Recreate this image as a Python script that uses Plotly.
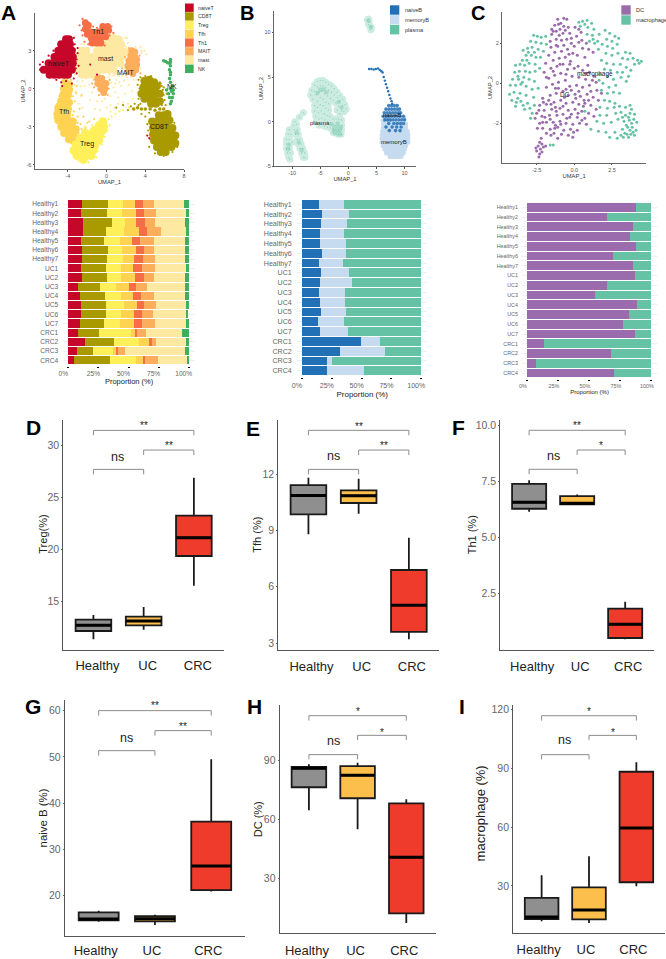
import plotly.graph_objects as go

W, H = 666, 959
FONT = "Liberation Sans"

# ---------- Panel A UMAP (x, y in UMAP units) ----------
a_names = ["naiveT", "CD8T", "Treg", "Tfh", "Th1", "MAIT", "mast", "NK"]
a_colors = ["#c5082a", "#a99a00", "#fff05a", "#fed352", "#f56e45", "#fdae5c", "#fee9a3", "#3fae5f"]

mast_core = [(0.2,4.0),(0.7,4.0),(1.2,3.9),(-1.0,3.5),(-0.5,3.5),(0,3.5),(0.5,3.5),(1.0,3.5),(1.5,3.5),(-2.6,3.0),(-2.1,3.0),(-1.0,3.0),(-0.5,3.0),(0,3.0),(0.5,3.0),(1.0,3.0),(1.5,3.0),(1.9,2.9),(-3.0,2.5),(-2.5,2.5),(-2,2.5),(-1.5,2.5),(-1,2.5),(-0.5,2.5),(0,2.5),(0.5,2.5),(1,2.5),(1.5,2.5),(-3.1,2.0),(-2.6,2.0),(-2.1,2.0),(-1.6,2.0),(-1.1,2.0),(-0.6,2.0),(-0.1,2.0),(0.4,2.0),(0.9,2.0),(1.4,2.0),(-2.8,1.5),(-2.3,1.5),(-1.8,1.5),(-1.3,1.5),(-0.8,1.5),(-0.3,1.5),(0.2,1.5),(0.7,1.5),(-2.5,1.1),(-2,1.1),(-1.5,1.1),(-1,1.1)]
mast_speck = [(-3,0.6),(-2.7,0.2),(-3.1,-0.4),(-2.1,0.8),(-1.8,0.3),(-1.5,-0.3),(-1.7,-0.9),(-1.0,-1.0),(-0.5,-1),(0,-1.5),(0.4,-0.6),(0.7,0.1),(1,0.7),(1.3,1),(1.8,0.6),(2.3,0.3),(2.8,0.7),(3.2,0.7),(3.4,0.3),(3.2,-0.3),(2.7,-0.8),(2.2,-1.2),(1.7,-1.1),(1.2,-1.2),(0.8,-1.5),(3.6,2.8),(3.6,3),(3.9,3),(3.5,3.3),(3,3.3),(2,3.3),(1.9,4),(-3.6,3.3),(-3.3,4.1),(-2.6,3.5),(0.3,0.4),(0.9,-0.3),(1.5,0.2),(-1.2,0.4),(-2.3,0.2),(-2.6,-0.6),(2.6,-0.2),(1.9,-0.4),(0.6,1.0),(0.2,0.9),(1.0,1.2),(0.5,0.5),(1.2,-0.7),(0.4,-1.3),(-0.2,-0.8),(-2.9,1.0),(-3.3,0.3),(-2.5,0.6),(1.6,1.0),(3.4,2.2),(3.5,1.6),(3.8,0.9),(4.1,2.7),(-3.3,1.1),(-3.4,2.7),(-2.9,3.2),(-2.3,3.5),(2.0,2.3),(1.9,1.6),(1.2,1.1),(0.8,1.1),(0.3,1.1),(-0.4,1.0),(0.1,0.6),(2.1,4.0),(2.2,3.6),(1.6,3.9),(0.9,0.4),(1.3,0.5),(2.1,0.9),(-2.9,-1.2),(-2.5,-1.5),(-1.2,-1.6),(-0.7,-1.7),(0.4,-1.8)]
naive_core = [(-4.2,3.9),(-3.9,3.9),(-4.7,3.5),(-4.3,3.5),(-3.8,3.5),(-5.0,3.0),(-4.5,3.0),(-4.0,3.0),(-3.6,3.0),(-5.4,2.5),(-4.9,2.5),(-4.4,2.5),(-3.9,2.5),(-3.5,2.5),(-6.0,2.0),(-5.5,2.0),(-5.0,2.0),(-4.5,2.0),(-4.0,2.0),(-3.5,2.0),(-6.5,1.5),(-6.0,1.5),(-5.5,1.5),(-5.0,1.5),(-4.5,1.5),(-4.0,1.5),(-3.6,1.5),(-5.9,1.1),(-5.4,1.1),(-4.9,1.1),(-4.4,1.1),(-4.0,1.1)]
naive_speck = [(-3,2.8),(-3.1,1.2),(-3.4,0.8),(-4.7,0.5),(-5,0.9),(-4.2,0.6),(-3,3.2),(-2.9,1.8),(4.2,-3.7),(4.4,-3.9),(-1.7,1.9),(-1,1.1),(-3.3,3.5),(-6.9,1.9),(-4.6,0.2),(-3.6,0.4),(-3.1,2.3),(-3.2,1.6),(-3.4,4.0),(-3.3,3.1),(-5.5,3.0),(-6.0,2.6),(-6.6,2.1),(-6.9,1.5),(-5.2,0.7)]
th1_core = [(-2.2,5.2),(-1.9,5.0),(-2.2,4.7),(-1.7,4.5),(-0.4,4.9),(0.1,4.9),(-0.7,4.5),(-0.2,4.5),(0.2,4.6),(-1.2,4.4),(-2.0,4.3),(-1.6,4.0),(-1.1,4.0),(-0.6,4.0),(-0.1,4.1),(-1.5,3.6),(-1.0,3.6),(-0.6,3.6)]
th1_speck = [(-2.8,5.0),(-2.5,4.2),(0.5,4.9),(0.7,4.4),(0.3,4.2),(-2.3,3.7),(-1.9,3.5),(-0.2,3.4),(-2.5,5.5),(-1.4,4.9),(-1.0,4.8),(-2.6,4.6)]
mait_core = [(2.6,3.0),(2.9,2.9),(2.5,2.6),(2.9,2.5),(3.1,2.3),(2.3,2.2),(2.7,2.1),(3.1,1.9),(2.2,1.8),(2.6,1.7),(3.0,1.5),(2.3,1.4),(2.7,1.2),(-0.9,0.8),(-0.5,0.8),(-0.9,0.4),(-0.5,0.4),(-0.1,0.4),(-0.6,0),(-0.2,0),(-0.3,-0.3)]
mait_speck = [(1.9,2.5),(3.4,2.6),(3.3,1.7),(2.0,1.1),(-1.3,0.7),(-1.3,0.1),(0.2,0.0),(0.1,-0.5),(-0.8,-0.5),(1.6,1.6),(3.5,1.2),(2.3,3.2),(-1.5,0.4),(0.3,0.7)]
cd8_core = [(3.9,0.6),(4.4,0.7),(4.9,0.5),(5.2,0.2),(3.8,0.1),(4.3,0.2),(4.8,0),(3.6,-0.4),(4.1,-0.3),(4.6,-0.4),(5.1,-0.3),(5.5,-0.4),(3.9,-0.8),(4.4,-0.8),(4.9,-0.8),(4.6,-1.2),(5.1,-1.2),(5.5,-1.0),(5.4,-2.1),(5.9,-2.1),(6.3,-2.0),(4.7,-2.6),(5.2,-2.6),(5.7,-2.6),(6.2,-2.6),(6.5,-2.5),(4.8,-3.1),(5.3,-3.1),(5.8,-3.1),(6.3,-3.1),(6.8,-3.1),(4.8,-3.6),(5.3,-3.6),(5.8,-3.6),(6.3,-3.6),(6.8,-3.6),(7.1,-3.7),(4.9,-4.1),(5.4,-4.1),(5.9,-4.1),(6.4,-4.1),(6.9,-4.1),(7.1,-4.3),(5.2,-4.6),(5.7,-4.6),(6.2,-4.6),(6.7,-4.6),(5.6,-5.0),(6.1,-5.0)]
cd8_strip = [(2.8,-1.6),(3.2,-1.5),(3.6,-1.6),(4.0,-1.6),(4.5,-1.6),(5.0,-1.7),(5.5,-1.6),(5.9,-1.6)]
cd8_speck = [(1.7,-1.3),(2.2,-1.7),(2.5,-1.4),(2.9,-1.2),(3.3,-1.3),(3.6,-2),(4,-2.2),(4.4,-1.9),(4.2,-2.8),(4.3,-3.3),(4.5,-4),(6.6,-2.3),(7,-2.7),(7.4,-3.7),(7.3,-4.6),(5.9,-5.3),(3.4,0),(3.2,0.3),(5.6,0.4),(5.8,-0.1),(6,-0.9),(5.7,-1.3),(1,-1.5),(6.1,-1.3),(5.9,0.1),(6.2,-0.4),(3.3,0.7),(3.5,0.9),(5.5,0.5),(5.7,0.2),(3.3,-0.8),(3.5,-1.2),(5.9,-0.5),(4.0,1.0),(4.6,1.0),(6.8,-5.0),(5.0,-5.1),(4.4,-4.6)]
nk_core = [(5.9,2.2),(6.1,2.15),(6.3,2.05),(6.5,2.0),(6.6,2.3),(6.6,2.1),(6.6,1.8),(6.5,1.5),(6.6,1.3),(6.6,1.1),(6.5,0.8),(6.6,0.5),(6.8,0.2),(6.9,-0.1),(6.9,-0.4),(6.7,-0.2),(6.8,-0.7),(6.7,-1.0),(6.6,-1.2),(6.4,-0.4),(6.2,-0.1),(6.5,-0.7),(6.6,0.0)]
treg_core = [(-0.4,-2.6),(-0.8,-2.9),(-0.3,-3.0),(-1.3,-3.3),(-0.8,-3.3),(-0.4,-3.3),(-2.2,-3.5),(-1.7,-3.6),(-1.2,-3.7),(-0.7,-3.7),(-2.7,-3.9),(-2.2,-4.0),(-1.7,-4.0),(-1.2,-4.1),(-0.8,-4.1),(-3.2,-4.4),(-2.7,-4.4),(-2.2,-4.4),(-1.7,-4.5),(-1.2,-4.5),(-3.4,-4.9),(-2.9,-4.9),(-2.4,-4.9),(-1.9,-4.9),(-1.4,-4.9),(-3.1,-5.3),(-2.6,-5.3),(-2.1,-5.3),(-1.6,-5.3),(-2.4,-5.6)]
treg_speck = [(0.2,-2.4),(0.5,-2.2),(0.9,-2),(1.3,-1.8),(-0.1,-2.7),(-0.6,-2.5),(-1.0,-2.8),(-1.5,-2.9),(-2.2,-3),(-2.5,-3.3),(0.3,-2.9),(-3.6,-4.2),(1.7,-1.7),(2.3,-1.5),(2.7,-1.6),(0.1,-3.3),(-0.2,-3.8),(-0.5,-4.4),(-0.9,-4.9),(-1.1,-5.4),(-3.7,-4.7),(-1.9,-5.8),(-2.9,-5.7)]
tfh_core = [(-4.3,0.5),(-3.9,0.3),(-4.4,0),(-3.9,-0.1),(-4.5,-0.5),(-4.0,-0.5),(-4.7,-1),(-4.2,-1),(-3.9,-1.1),(-5.0,-1.5),(-4.5,-1.5),(-4.0,-1.6),(-5.1,-2),(-4.6,-2),(-4.1,-2),(-5.0,-2.5),(-4.5,-2.5),(-4.0,-2.5),(-3.5,-2.6),(-4.7,-3),(-4.2,-3),(-3.7,-3),(-3.2,-3.2),(-4.4,-3.5),(-3.9,-3.5),(-3.4,-3.6),(-3.9,-4),(-3.5,-4.1)]
tfh_speck = [(-2.6,-0.5),(-2.8,-1.6),(-2.4,-2.2),(-1.8,-2.6),(-1.3,-2.4),(-3,-2.2),(-2.7,-2.8),(-3.1,0.2),(-3.3,-1),(-3.2,-0.3),(-5.4,-2.3),(-5.3,-1.7),(-3.7,0.7),(-2,-2.7),(-2.2,-3.1),(-2.9,-3.5),(-3.4,-1.8),(-3.5,-2.1),(-3.0,-2.7),(-3.6,0.0),(-3.5,-0.6),(-2.6,-3.2),(-5.1,-1.2),(-4.9,-0.6)]
a_labels = [("naiveT",-4.9,2.0),("Th1",-0.9,4.5),("mast",-0.1,2.4),("MAIT",1.9,1.3),("NK",6.8,0.2),("Tfh",-4.4,-1.8),("CD8T",5.5,-3.0),("Treg",-2.0,-4.4)]

# ---------- Panel B UMAP ----------
b_names = ["naiveB", "memoryB", "plasma"]
b_colors = ["#2270b5", "#c6dbef", "#66c2a5"]
plasma_pts = [(-6.5,3.5),(-6,4.1),(-5.5,4.5),(-5,4.6),(-4.5,4.6),(-4,4.4),(-3.5,4.2),(-3,4),(-2.5,3.7),(-2,3.3),(-1.5,2.9),(-1,2.5),(-0.6,1.9),(-0.4,1.4),(-6.7,3),(-6,3.4),(-5.5,3.9),(-5,4),(-4.5,4),(-4,3.8),(-3.5,3.5),(-3,3.3),(-2.5,3),(-2,2.7),(-1.5,2.3),(-1,1.8),(-6.3,2.5),(-5.7,3),(-5.2,3.3),(-4.7,3.4),(-4.2,3.1),(-3.7,2.9),(-3.2,2.6),(-2.7,2.4),(-2.2,2.1),(-1.7,1.7),(-1.2,1.2),(-0.8,1.1),(-6,1.8),(-5.5,2.3),(-5,2.7),(-4.5,2.5),(-4,2.2),(-3.5,2),(-6,1.2),(-5.5,1.6),(-5,1.9),(-4.5,1.8),(-4,1.5),(-3.5,1.3),(-2,1.3),(-1.5,0.9),(-5.8,0.6),(-5.3,1),(-4.8,1.2),(-4.3,0.9),(-3.8,0.7),(-3.3,0.6),(-2.7,0.3),(-2.2,0.3),(-1.7,0.3),(-1.2,0.2),(-5.7,0),(-5.2,0.3),(-4.7,0.4),(-4.2,0.2),(-3.7,0),(-3.2,-0.1),(-2.7,-0.3),(-2.2,-0.4),(-1.7,-0.4),(-1.2,-0.4),(-5.2,-0.4),(-4.7,-0.3),(-4.2,-0.5),(-3.7,-0.6),(-3.2,-0.7),(-2.7,-0.8),(-2.2,-0.9),(-1.7,-0.9),(-1.2,-0.9),(-2.7,-1.2),(-2.2,-1.3),(-1.7,-1.4),(-1.3,-1.4),(-2.5,-1.0),(-1.9,-1.1),(-1.5,-1.1),(-1.5,-0.7),(-8,1),(-8.7,0.5),(-9.5,0),(-9.7,-0.4),(-9.2,-0.3),(-9.6,-0.9),(-9.1,-0.9),(-9.4,-1.4),(-8.9,-1.4),(-9.1,-2),(-8.7,-2),(-8.9,-2.5),(-8.4,-2.5),(-8.6,-3),(-8.1,-3),(-8.3,-3.5),(-7.8,-3.5),(-8,-4),(-7.7,-4),(-10.5,-0.9),(-10.7,-1.4),(-10.2,-1.4),(-11,-2),(-10.5,-2),(-11,-2.5),(-10.5,-2.5),(-10,-2.3),(-11,-3),(-10.5,-3),(-10.8,-3.5),(-10.3,-3.5),(-10.6,-4),(-10.4,-4.2),(3.4,11.4),(3.6,11.5),(3.7,11.2),(3.6,10.9),(3.9,10.7),(4.1,10.5),(4,10.3)]
plasma_dense = [(-3.0,-0.3),(-2.5,-0.6),(-2.0,-0.7),(-1.5,-0.9),(-2.6,-1.0),(-2.1,-1.1),(-1.6,-1.2),(-1.3,-0.6),(-1.9,-0.2),(-2.4,-1.3),(-1.8,-1.4),(-1.4,-1.4),(-5.5,3.2),(-5.0,3.6),(-4.4,3.6),(-3.9,3.3),(-1.7,2.2),(-1.2,1.6),(-10.6,-2.6),(-10.7,-3.1),(-9.2,-1.2),(-8.8,-2.3),(-8.3,-3.2),(3.6,11.3),(4.0,10.6)]
memory_pts = [(6.6,0.5),(7.1,0.5),(9.9,0.4),(6.2,0.1),(6.7,0.1),(7.3,0.1),(6.3,-0.3),(6.8,-0.3),(7.6,-0.3),(8.4,-0.3),(9.0,-0.3),(10.2,-0.3),(6.2,-0.7),(6.7,-0.7),(7.2,-0.7),(8.0,-0.7),(8.9,-0.7),(9.7,-0.7),(10.2,-0.7),(6.1,-1.1),(6.6,-1.1),(7.1,-1.1),(7.6,-1.1),(8.1,-1.1),(8.7,-1.1),(9.5,-1.1),(10.0,-1.1),(10.5,-1.1),(6.0,-1.5),(6.5,-1.5),(7.0,-1.5),(7.5,-1.5),(8.0,-1.5),(8.5,-1.5),(9.0,-1.5),(9.5,-1.5),(10.0,-1.5),(10.6,-1.5),(6.0,-1.9),(6.5,-1.9),(7.0,-1.9),(7.5,-1.9),(8.0,-1.9),(8.5,-1.9),(9.0,-1.9),(9.5,-1.9),(10.0,-1.9),(10.6,-1.9),(6.0,-2.3),(6.5,-2.3),(7.0,-2.3),(7.5,-2.3),(8.0,-2.3),(8.5,-2.3),(9.0,-2.3),(9.5,-2.3),(10.0,-2.3),(10.6,-2.3),(6.2,-2.7),(6.7,-2.7),(7.2,-2.7),(7.7,-2.7),(8.2,-2.7),(8.7,-2.7),(9.2,-2.7),(9.7,-2.7),(10.2,-2.7),(6.5,-3.1),(7.0,-3.1),(7.5,-3.1),(8.0,-3.1),(8.5,-3.1),(9.0,-3.1),(9.5,-3.1),(10.0,-3.1),(6.8,-3.5),(7.3,-3.5),(7.8,-3.5),(8.3,-3.5),(8.8,-3.5),(9.3,-3.5),(9.8,-3.5),(7.4,-3.9),(7.9,-3.9),(8.4,-3.9),(8.9,-3.9),(9.4,-3.9)]
naiveb_line = [(3.7,5.9),(4.1,5.9),(4.5,5.85),(4.9,5.9),(5.3,5.95),(5.6,5.8),(5.9,5.65),(6.1,5.5),(6.3,5.0),(6.5,4.6),(6.7,4.2),(6.9,3.8),(7.1,3.4),(7.3,3.0),(7.5,2.6),(7.7,2.3),(7.8,2.0)]
naiveb_blob = [(7.2,1.8),(7.7,1.8),(8.2,1.8),(8.7,1.8),(6.7,1.4),(7.2,1.4),(7.7,1.4),(8.2,1.4),(8.7,1.4),(9.1,1.4),(6.4,1),(6.9,1),(7.4,1),(7.9,1),(8.4,1),(8.9,1),(9.3,1),(6.2,0.6),(6.7,0.6),(7.2,0.6),(7.7,0.6),(8.2,0.6),(8.7,0.6),(9.2,0.6),(9.8,0.6),(6.5,0.2),(7,0.2),(7.5,0.2),(8,0.2),(8.5,0.2),(9,0.2),(9.5,0.2),(10,0.2),(7.2,-0.2),(8.1,-0.2),(8.7,-0.2),(9.3,-0.2),(9.8,-0.2),(6.7,-0.6),(7.8,-0.6),(8.6,-0.6),(9.4,-0.6),(7.3,-1),(8.4,-1),(9.2,-1)]
b_labels = [("plasma",-5.0,-0.1),("naiveB",7.8,0.7),("memoryB",8.2,-2.3)]

# ---------- Panel C UMAP ----------
c_names = ["DC", "macrophage"]
c_colors = ["#9a6bad", "#66c2a5"]
dc_pts = [(-1.5,2.7),(-1.3,2.9),(-1.1,3.2),(-0.9,3.0),(-0.7,3.25),(-0.5,3.2),(-1.4,2.6),(-1.2,2.6),(-0.95,2.7),(-0.7,2.85),(-0.4,2.8),(-1.5,2.45),(-1.0,2.4),(-0.75,2.5),(-0.3,2.5),(0.05,2.8),(0.3,2.7),(0.45,2.55),(0.15,2.35),(-0.5,2.2),(-0.85,2.15),(-1.2,2.2),(-1.6,2.1),(0.5,2.15),(0.8,2.0),(-0.2,2.0),(0.0,1.85),(-0.7,1.9),(-1.1,1.85),(0.55,1.75),(0.95,1.7),(1.25,1.55),(-0.45,1.7),(-0.85,1.6),(-1.3,1.55),(-1.7,1.4),(-0.1,1.5),(0.2,1.4),(0.7,1.3),(-0.6,1.3),(-1.0,1.25),(-1.4,1.15),(-1.9,1.0),(-0.25,1.1),(-0.75,0.95),(-1.15,0.85),(-1.55,0.75),(-2.0,0.55),(-0.45,0.7),(0.0,0.75),(0.55,0.65),(1.0,0.55),(1.3,0.35),(-0.9,0.5),(-1.3,0.4),(-1.7,0.25),(-0.15,0.35),(0.3,0.3),(0.75,0.2),(1.45,0.05),(-0.6,0.15),(-1.05,0.05),(-1.45,-0.05),(-1.85,-0.2),(-0.3,-0.15),(0.15,-0.1),(0.55,-0.2),(1.0,-0.1),(1.5,-0.35),(1.8,-0.5),(-0.75,-0.4),(-1.2,-0.5),(-1.6,-0.6),(-2.1,-0.75),(-0.4,-0.6),(0.05,-0.55),(0.4,-0.65),(0.85,-0.55),(1.25,-0.7),(1.6,-0.85),(-0.9,-0.85),(-1.35,-0.95),(-1.85,-1.05),(-2.3,-1.1),(-0.55,-1.0),(-0.1,-0.95),(0.3,-1.05),(0.7,-1.0),(1.1,-1.1),(1.45,-1.3),(-0.95,-1.25),(-1.5,-1.3),(-2.0,-1.35),(-2.5,-1.5),(-0.4,-1.35),(0.05,-1.3),(0.5,-1.4),(0.95,-1.5),(1.3,-1.65),(-0.75,-1.55),(-1.15,-1.6),(-1.65,-1.6),(-2.15,-1.65),(-2.6,-1.75),(-0.3,-1.7),(0.2,-1.7),(0.7,-1.75),(-0.95,-1.9),(-1.4,-1.95),(-1.85,-1.95),(-2.3,-2.0),(-0.55,-2.0),(-0.1,-2.05),(0.35,-2.0),(0.8,-2.05),(-1.1,-2.2),(-1.6,-2.3),(-2.1,-2.25),(-2.45,-2.25),(-0.7,-2.35),(-0.25,-2.3),(0.2,-2.35),(-1.35,-2.5),(-1.85,-2.5),(-0.85,-2.55),(-0.4,-2.6),(-0.1,-2.7),(-1.1,-2.75),(-2.2,-2.75),(-2.3,-2.95),(-2.15,-3.05),(-2.4,-3.15),(-2.25,-3.3),(-2.05,-3.2),(-2.5,-3.4),(-2.3,-3.55),(-2.15,-3.45),(-1.9,-3.15),(-2.55,-3.25),(-2.35,-3.7),(-1.2,1.9),(-0.3,0.95),(0.9,0.9),(-1.05,-0.25),(-0.55,-0.3),(0.65,-0.85),(-1.7,-0.85),(-1.25,-1.2),(-0.2,-1.55),(0.6,-1.15),(-1.95,-1.7),(-1.25,-2.1),(-1.05,2.95),(-0.6,2.65),(-0.2,2.25),(0.3,2.05),(-0.35,1.45),(-1.55,1.8),(-0.95,0.95),(-1.4,0.6),(-0.55,0.45),(0.25,0.85),(0.8,0.5),(-1.25,-0.25),(0.3,-0.4),(1.1,-0.4),(-0.65,-0.7),(-1.55,-1.05),(0.1,-0.75),(0.95,-0.85),(-2.05,-0.95),(-0.75,-1.15),(0.25,-1.5),(-1.2,-1.4),(-0.5,-1.75),(-1.6,-1.8),(-2.1,-1.95),(0.5,-1.85),(-0.9,-2.05),(-0.05,-2.45),(-1.55,-2.6),(-1.3,-2.25),(-2.35,-1.35),(-0.2,-0.35),(1.2,0.15),(-1.85,0.3)]
mac_pts = [(-2.7,2.4),(-2.45,2.35),(-2.2,2.3),(-1.9,2.35),(-2.9,2.1),(-2.55,2.05),(-2.2,2.0),(-1.85,1.95),(-3.4,1.65),(-3.1,1.75),(-2.8,1.8),(-2.4,1.7),(-2.05,1.6),(-3.2,1.4),(-2.85,1.4),(-2.55,1.3),(-2.25,1.3),(-3.9,0.9),(-3.6,0.95),(-3.3,0.9),(-3.0,1.0),(-2.6,0.95),(-3.95,0.55),(-3.65,0.6),(-3.25,0.6),(-2.95,0.55),(-2.6,0.6),(-2.3,0.75),(-4.1,0.2),(-3.7,0.2),(-3.35,0.3),(-3.0,0.2),(-2.65,0.1),(-4.25,-0.1),(-3.9,-0.1),(-3.55,-0.05),(-3.2,-0.15),(-2.8,-0.3),(-2.4,-0.25),(-4.3,-0.55),(-4.0,-0.45),(-3.6,-0.5),(-3.2,-0.6),(-2.7,-0.7),(-4.15,-0.85),(-3.85,-0.95),(-3.55,-0.9),(-3.1,-1.0),(-2.65,-1.1),(-3.9,-1.15),(-3.3,-1.3),(-2.8,-1.5),(-2.9,-1.75),(0.3,3.05),(0.55,3.1),(0.85,3.15),(1.15,3.0),(0.4,2.85),(0.9,2.8),(1.3,2.7),(2.05,2.65),(2.35,2.5),(2.7,2.35),(2.95,2.25),(0.85,2.45),(1.2,2.4),(1.65,2.45),(2.15,2.2),(2.5,2.1),(1.0,2.1),(1.35,2.0),(1.85,1.95),(2.2,1.85),(2.55,1.75),(2.85,1.95),(1.6,1.7),(2.1,1.5),(2.5,1.4),(2.9,1.5),(3.4,1.55),(3.7,1.5),(3.2,1.25),(3.55,1.2),(3.9,1.25),(4.2,1.15),(4.45,1.1),(4.0,0.95),(4.3,1.0),(1.8,1.15),(2.15,1.0),(2.6,0.95),(3.05,0.95),(3.45,0.8),(3.75,0.65),(2.0,0.7),(2.4,0.65),(2.85,0.55),(3.2,0.55),(3.6,0.35),(1.7,0.45),(2.2,0.35),(2.6,0.2),(3.1,0.3),(3.45,0.1),(1.9,0.0),(2.3,-0.2),(2.75,-0.1),(1.65,0.15),(1.8,-0.35),(2.2,-0.5),(2.6,-0.45),(3.0,-0.5),(2.0,-0.85),(2.35,-0.9),(2.7,-1.0),(1.7,-1.2),(2.2,-1.25),(2.65,-1.2),(3.0,-1.15),(3.4,-1.2),(3.7,-1.1),(0.7,-1.4),(1.7,-1.6),(2.15,-1.6),(2.75,-1.5),(3.1,-1.45),(3.4,-1.6),(3.7,-1.5),(4.0,-1.55),(1.5,-1.9),(1.95,-2.0),(2.45,-1.95),(2.9,-1.8),(3.3,-1.9),(3.65,-1.85),(3.95,-1.8),(4.15,-1.95),(1.1,-2.3),(1.6,-2.4),(2.1,-2.45),(2.7,-2.45),(3.2,-2.3),(3.55,-2.2),(3.85,-2.2),(4.1,-2.35),(2.35,-2.7),(2.85,-2.75),(3.25,-2.7),(3.5,-2.55),(3.75,-2.55),(4.0,-2.6),(3.6,-2.7),(-1.6,-3.1),(-1.4,-3.1),(-3.05,1.55),(-2.65,1.55),(-3.45,1.15),(-3.15,1.15),(-3.75,0.35),(-3.45,0.05),(-3.75,-0.75),(-3.4,-1.1),(-2.95,-1.25),(3.6,-1.7),(3.8,-2.0),(3.9,-2.45),(3.45,-2.1),(3.7,-2.35),(3.35,-2.5),(3.1,-2.6),(3.8,-1.3),(3.2,-1.7),(0.7,2.95),(1.55,2.1),(1.25,2.2)]
c_labels = [("macrophage",1.35,0.48),("DC",-0.65,-0.55)]

# ---------- Stacked proportions ----------
samples = ["Healthy1","Healthy2","Healthy3","Healthy4","Healthy5","Healthy6","Healthy7","UC1","UC2","UC3","UC4","UC5","UC6","UC7","CRC1","CRC2","CRC3","CRC4"]
a_naiveT = [11.6,10.2,12.2,11.9,10.2,11.4,11.1,10.5,11.1,8.3,9.7,10.8,10.8,10,8,13.6,7.2,5]
a_cd8t   = [21.3,21.9,24.1,19.7,19.4,21.3,20.8,20.5,20.8,18.3,20.8,20.5,20.5,19.7,17.5,24.7,13,29.6]
a_treg   = [12.5,12.5,10.8,15,13,12.2,13.6,12.7,11.9,13,13.3,14.7,12.7,13.6,26.9,20.5,16.6,21.6]
a_tfh    = [10,11.4,8.9,11.9,10.5,11.4,9.1,9.7,11.6,10.8,10,10.8,10.5,11.4,3.9,8.3,2.8,6.6]
a_th1    = [6.6,6.9,7.8,7.2,6.4,6.4,7.8,7.8,7.2,5.8,6.6,6.1,6.9,6.6,0.6,2.5,1.9,0.6]
a_mait   = [9.4,10,8.3,11.4,11.6,8.6,9.7,10.8,8.6,9.4,11.1,10,9.1,10.8,7.8,3.3,5.3,11.1]
a_mast   = [24.7,24.9,24.9,21.6,25.8,26,25.2,25.5,26,31.6,25.8,24.9,27.1,26,29.4,24.7,49.9,23.8]
a_nk     = [3.9,2.2,3.0,1.4,3.0,2.8,2.8,2.5,2.8,2.8,2.8,2.2,2.2,1.9,6.1,2.5,3.3,1.7]

b_naive  = [14.5,16.8,16.2,14.8,15.1,16.5,14.2,15.9,15.1,14.2,15.4,15.6,13.7,14.8,49.4,31.6,20.7,21.2]
b_memory = [21,22.3,21.5,20.7,22.1,20.4,20.2,23.5,26.8,22.1,20.6,21.3,21.8,23.7,16,37.9,4.4,30.8]
b_plasma = [64.5,60.9,62.3,64.5,62.8,63.1,65.6,60.6,58.1,63.7,64,63.1,64.5,61.5,34.6,30.5,74.9,48]

c_dc  = [87.6,64.5,85.8,83.3,88.2,69.4,85.8,87.1,64.5,55.1,88.7,82.3,77.2,86.8,14,67.5,7.3,70.2]
c_mac = [12.4,35.5,14.2,16.7,11.8,30.6,14.2,12.9,35.5,44.9,11.3,17.7,22.8,13.2,86,32.5,92.7,29.8]
pct_ticks = [0, 25, 50, 75, 100]
pct_text = ["0%", "25%", "50%", "75%", "100%"]

# ---------- Box panels: lower whisker, q1, median, q3, upper whisker ----------
groups = ["Healthy", "UC", "CRC"]
group_colors = ["#8f8f8f", "#fcbf4b", "#ef3b2c"]
d_stats = [[11.38,12.18,12.72,13.27,13.72],[12.31,12.72,13.14,13.56,14.49],[16.54,19.39,21.15,23.27,26.92]]
e_stats = [[8.79,9.85,10.86,11.41,11.81],[9.89,10.46,10.85,11.13,11.75],[3.2,3.6,5.02,6.89,8.61]]
f_stats = [[6.15,6.29,6.58,7.4,7.56],[6.49,6.49,6.53,6.85,6.93],[0.46,0.52,1.13,1.83,2.14]]
g_stats = [[14.38,14.67,14.95,16.4,16.76],[13.66,14.45,15.03,15.6,15.9],[20.9,21.2,26.4,36,49.5]]
h_stats = [[64.6,76.3,85.9,86.6,88],[54.9,70.7,82.4,87,88.8],[7.3,12.2,40.7,68.1,70.2]]
i_stats = [[12,13.2,14.2,23.9,35.4],[11.2,13,17.8,29.3,45.1],[29.8,31.9,59.5,88.1,92.9]]

fig = go.Figure()
layout_axes = {}
annots = []
shapes = []
axis_no = 0


def add_axes(l, t, r, b, xa, ya):
    global axis_no
    axis_no += 1
    suf = "" if axis_no == 1 else str(axis_no)
    xa = dict(xa, domain=[l / W, r / W], anchor="y" + suf, automargin=False)
    ya = dict(ya, domain=[1 - b / H, 1 - t / H], anchor="x" + suf, automargin=False)
    layout_axes["xaxis" + suf] = xa
    layout_axes["yaxis" + suf] = ya
    return "x" + suf, "y" + suf


def scatter_axis(rng, ticks, text, title):
    return dict(range=rng, tickvals=ticks, ticktext=text, showgrid=False, zeroline=False,
                showline=True, linecolor="#666666", linewidth=1, ticks="outside", ticklen=1.5,
                tickwidth=0.7, tickcolor="#555555", tickfont=dict(size=5.5, color="#555555"),
                title=dict(text=title, font=dict(size=5.8, color="#333333"), standoff=0))


def pts(trace_xy, xr, yr, color, size, name, opacity=1):
    fig.add_trace(go.Scatter(x=[p[0] for p in trace_xy], y=[p[1] for p in trace_xy], mode="markers",
                             name=name, showlegend=False, xaxis=xr, yaxis=yr, opacity=opacity, hoverinfo="skip",
                             marker=dict(color=color, size=size, line=dict(width=0))))


def legend_key(names, colors, x0, x1, xt, y0, dy, fs, box_h):
    for i, (n, c) in enumerate(zip(names, colors)):
        yc = y0 + dy * i
        shapes.append(dict(type="rect", xref="paper", yref="paper", x0=x0 / W, x1=x1 / W,
                           y0=1 - (yc + box_h / 2) / H, y1=1 - (yc - box_h / 2) / H,
                           fillcolor=c, line=dict(width=0)))
        annots.append(dict(xref="paper", yref="paper", x=xt / W, y=1 - yc / H, text=n, showarrow=False,
                           xanchor="left", yanchor="middle", font=dict(size=fs, color="#333333", family=FONT)))


def point_labels(labels, xr, yr, fs):
    for t, x, y in labels:
        annots.append(dict(xref=xr, yref=yr, x=x, y=y, text=t, showarrow=False,
                           font=dict(size=fs, color="#1a1a1a", family=FONT)))


def stacked(l, t, r, b, series, names, colors, tick_fs, title_fs, shift, ylen):
    p = (r - l) / 100
    xr, yr = add_axes(l - 4 * p, t, r + 5 * p, b,
                      dict(range=[-4, 105], tickvals=pct_ticks, ticktext=pct_text, showgrid=False, zeroline=False,
                           showline=False, ticks="outside", ticklen=1.5, tickwidth=2, tickcolor="#000000",
                           tickfont=dict(size=tick_fs, color="#666666"), ticklabelshift=shift,
                           title=dict(text="Proportion (%)", font=dict(size=title_fs, color="#222222"), standoff=0)),
                      dict(type="category", categoryorder="array", categoryarray=samples, range=[17.6, -0.6],
                           showgrid=True, gridcolor="#f0f0f0", gridwidth=1, zeroline=False, showline=False,
                           ticks="outside", ticklen=ylen, tickcolor="rgba(0,0,0,0)",
                           tickfont=dict(size=tick_fs, color="#666666")))
    for s, n, c in zip(series, names, colors):
        fig.add_trace(go.Bar(x=s, y=samples, orientation="h", name=n, marker=dict(color=c, line=dict(width=0)),
                             width=0.9, showlegend=False, xaxis=xr, yaxis=yr))


def box_panel(l, t, r, b, stats, yrange, yticks, yticktext, title, title_fs, title_x, title_y, shift, xlen, brackets, marks):
    xr, yr = add_axes(l, t, r, b,
                      dict(range=[-0.6, 2.6], tickvals=[0, 1, 2], ticktext=groups, showgrid=False, zeroline=False,
                           showline=True, linecolor="#555555", linewidth=1.2, ticks="outside", ticklen=xlen,
                           tickcolor="rgba(0,0,0,0)", ticklabelshift=shift,
                           tickfont=dict(size=13, color="#222222")),
                      dict(range=yrange, tickvals=yticks, ticktext=yticktext, showgrid=False, zeroline=False,
                           showline=True, linecolor="#555555", linewidth=1.2, ticks="outside", ticklen=1,
                           tickcolor="#666666", tickfont=dict(size=10.5, color="#666666")))
    annots.append(dict(xref="paper", yref="paper", x=title_x / W, y=1 - title_y / H, text=title, textangle=-90,
                       xanchor="center", yanchor="middle",
                       showarrow=False, font=dict(size=title_fs, color="#222222", family=FONT)))
    for i, s in enumerate(stats):
        fig.add_trace(go.Box(x=[i], lowerfence=[s[0]], q1=[s[1]], median=[s[2]], q3=[s[3]], upperfence=[s[4]],
                             name=groups[i], width=0.71, whiskerwidth=0, fillcolor=group_colors[i],
                             line=dict(color="#1a1a1a", width=1.8), showlegend=False, xaxis=xr, yaxis=yr))
        fig.add_trace(go.Scatter(x=[i - 0.35, i + 0.35], y=[s[2], s[2]], mode="lines", showlegend=False,
                                 hoverinfo="skip", line=dict(color="#000000", width=3), xaxis=xr, yaxis=yr))
    for x0, x1, top, tip in brackets:
        fig.add_trace(go.Scatter(x=[x0, x0, x1, x1], y=[tip, top, top, tip], mode="lines", showlegend=False,
                                 hoverinfo="skip", line=dict(color="#8c8c8c", width=1), xaxis=xr, yaxis=yr))
    for t_, x, y, fs in marks:
        annots.append(dict(xref=xr, yref=yr, x=x, y=y, text=t_, showarrow=False, yshift=-3 if t_[0] == "*" else 0,
                           font=dict(size=fs, color="#222222", family=FONT)))


# ---- top row UMAPs
xa, ya = add_axes(35, 13, 184, 169,
                  scatter_axis([-7.41, 8], [-4, 0, 4, 8], ["-4", "0", "4", "8"], "UMAP_1"),
                  scatter_axis([-6.34, 5.97], [-6, -3, 0, 3], ["-6", "-3", "0", "3"], "UMAP_2"))
for lst, col, sz, nm in [(mast_speck, a_colors[6], 2.2, "mast"), (mast_core, a_colors[6], 8, "mast"),
                         (tfh_speck, a_colors[3], 2.2, "Tfh"), (treg_speck, a_colors[2], 2.2, "Treg"),
                         (cd8_speck, a_colors[1], 2.2, "CD8T"), (cd8_strip, a_colors[1], 3.5, "CD8T"),
                         (cd8_core, a_colors[1], 8, "CD8T"),
                         (tfh_core, a_colors[3], 8, "Tfh"), (treg_core, a_colors[2], 8.5, "Treg"),
                         (mait_core, a_colors[5], 7, "MAIT"), (mait_speck, a_colors[5], 2.2, "MAIT"),
                         (th1_core, a_colors[4], 7, "Th1"), (th1_speck, a_colors[4], 2.2, "Th1"),
                         (nk_core, a_colors[7], 3.5, "NK"), (naive_core, a_colors[0], 8, "naiveT"),
                         (naive_speck, a_colors[0], 2.2, "naiveT")]:
    pts(lst, xa, ya, col, sz, nm)
point_labels(a_labels, xa, ya, 7)
legend_key(a_names, a_colors, 185, 193.7, 196.3, 7.7, 8.73, 5.2, 8.4)

xb, yb = add_axes(274.3, 10.7, 415.7, 166.3,
                  scatter_axis([-13.17, 11.99], [-10, -5, 0, 5, 10], ["-10", "-5", "0", "5", "10"], "UMAP_1"),
                  scatter_axis([-5, 12.43], [-5, 0, 5, 10], ["-5", "0", "5", "10"], "UMAP_2"))
pts(plasma_pts, xb, yb, "#cdece1", 7, "plasma")
pts(plasma_dense, xb, yb, "#a6dcc9", 4.5, "plasma")
pts(plasma_pts, xb, yb, b_colors[2], 1.2, "plasma", opacity=0.7)
pts(memory_pts, xb, yb, b_colors[1], 5, "memoryB")
pts(naiveb_blob, xb, yb, b_colors[0], 3.6, "naiveB", opacity=0.85)
pts(naiveb_line, xb, yb, b_colors[0], 2.4, "naiveB")
point_labels(b_labels, xb, yb, 6)
legend_key(b_names, b_colors, 390, 399.3, 402.7, 10, 9.85, 5.6, 9.4)

xc, yc = add_axes(502.3, 12.3, 646, 162.7,
                  scatter_axis([-4.78, 4.76], [-2.5, 0, 2.5], ["-2.5", "0.0", "2.5"], "UMAP_1"),
                  scatter_axis([-3.98, 3.55], [-2, 0, 2], ["-2", "0", "2"], "UMAP_2"))
pts(mac_pts, xc, yc, c_colors[1], 3, "macrophage")
pts(dc_pts, xc, yc, c_colors[0], 3, "DC")
point_labels(c_labels, xc, yc, 6.4)
legend_key(c_names, c_colors, 621.3, 630.7, 633.7, 10, 10, 5.6, 9.4)

# ---- stacked bars
stacked(68.3, 204 - 0.6 * 9.19, 188.7, 360.3 + 0.6 * 9.19,
        [a_naiveT, a_cd8t, a_treg, a_tfh, a_th1, a_mait, a_mast, a_nk], a_names, a_colors, 6.6, 7.5, -5, 3)
stacked(302, 204.3 - 0.6 * 9.79, 421.3, 370.7 + 0.6 * 9.79,
        [b_naive, b_memory, b_plasma], b_names, b_colors, 7.1, 8, -5, 3)
stacked(527, 207.3 - 0.6 * 9.75, 651, 373 + 0.6 * 9.75,
        [c_dc, c_mac], c_names, c_colors, 5.4, 6, -4, 2)

# ---- box plots
box_panel(63.3, 420, 224, 649.7, d_stats, [10.38, 32.47], [15, 20, 25, 30], ["15", "20", "25", "30"], "Treg(%)", 11, 42.7, 534, 4, 4,
          [(0, 1, 27.72, 27.24), (1, 2, 29.58, 29.1), (0, 2, 31.47, 31.0)],
          [("ns", 0.48, 28.94, 12.5), ("**", 1.5, 30.3, 10), ("**", 1, 32.2, 10)])
box_panel(278.3, 420, 439, 650, e_stats, [2.63, 14.88], [3, 6, 9, 12], ["3", "6", "9", "12"], "Tfh (%)", 11, 256.7, 535, 3, 4,
          [(0, 1, 12.25, 11.98), (1, 2, 13.28, 13.01), (0, 2, 14.33, 14.06)],
          [("ns", 0.49, 12.96, 12.5), ("**", 1.5, 13.69, 10), ("**", 1, 14.72, 10)])
box_panel(500.3, 420, 654, 650, f_stats, [-0.015, 10.25], [2.5, 5, 7.5, 10], ["2.5", "5.0", "7.5", "10.0"], "Th1 (%)", 11, 472.3, 535, 3, 4,
          [(0, 1, 8.05, 7.83), (1, 2, 8.91, 8.69), (0, 2, 9.79, 9.57)],
          [("ns", 0.5, 8.65, 12.5), ("*", 1.5, 9.26, 10), ("**", 1, 10.12, 10)])
box_panel(64.9, 700, 245, 935.7, g_stats, [11.35, 62.3], [20, 30, 40, 50, 60], ["20", "30", "40", "50", "60"], "naive B (%)", 11.4, 42.7, 817.7, -3, 3,
          [(0, 1, 51.35, 50.27), (1, 2, 55.68, 54.6), (0, 2, 60, 58.92)],
          [("ns", 0.5, 54.1, 12.5), ("**", 1.5, 57.3, 10), ("**", 1, 61.66, 10)])
box_panel(279.7, 705.3, 435.5, 933.3, h_stats, [2.03, 117.97], [30, 60, 90], ["30", "60", "90"], "DC (%)", 11, 258.3, 819, -2, 5,
          [(0, 1, 92.9, 90.5), (1, 2, 102.7, 100.3), (0, 2, 112.7, 110.2)],
          [("ns", 0.5, 99.8, 12.5), ("*", 1.5, 105.6, 10), ("*", 1, 116.4, 10)])
box_panel(513.2, 705.3, 664.8, 933.3, i_stats, [5.93, 121.9], [30, 60, 90, 120], ["30", "60", "90", "120"], "macrophage (%)", 13, 480.4, 813, -3, 4,
          [(0, 1, 96.8, 94.4), (1, 2, 106.6, 104.2), (0, 2, 116.6, 114.1)],
          [("ns", 0.48, 104.2, 12.5), ("*", 1.5, 109.5, 10), ("*", 1, 120.3, 10)])

# ---- panel letters
for ch, px, py, fs in [("A", 8, 13, 21), ("B", 247, 12.5, 20), ("C", 478, 12.5, 20), ("D", 33, 427, 21), ("E", 253, 428, 21), ("F", 459, 427, 21),
                       ("G", 33, 706, 21), ("H", 254, 706, 21), ("I", 462, 706, 21)]:
    annots.append(dict(xref="paper", yref="paper", x=px / W, y=1 - py / H, text="<b>%s</b>" % ch, showarrow=False,
                       xanchor="center", yanchor="middle", font=dict(size=fs, color="#000000", family=FONT)))

fig.update_layout(width=W, height=H, autosize=False, margin=dict(l=0, r=0, t=0, b=0), plot_bgcolor="white",
                  paper_bgcolor="white", barmode="stack", showlegend=False, font=dict(family=FONT),
                  template="none", annotations=annots, shapes=shapes, **layout_axes)
fig.write_html("out.html", config={"displayModeBar": False}, post_script="document.body.style.margin='0';")
